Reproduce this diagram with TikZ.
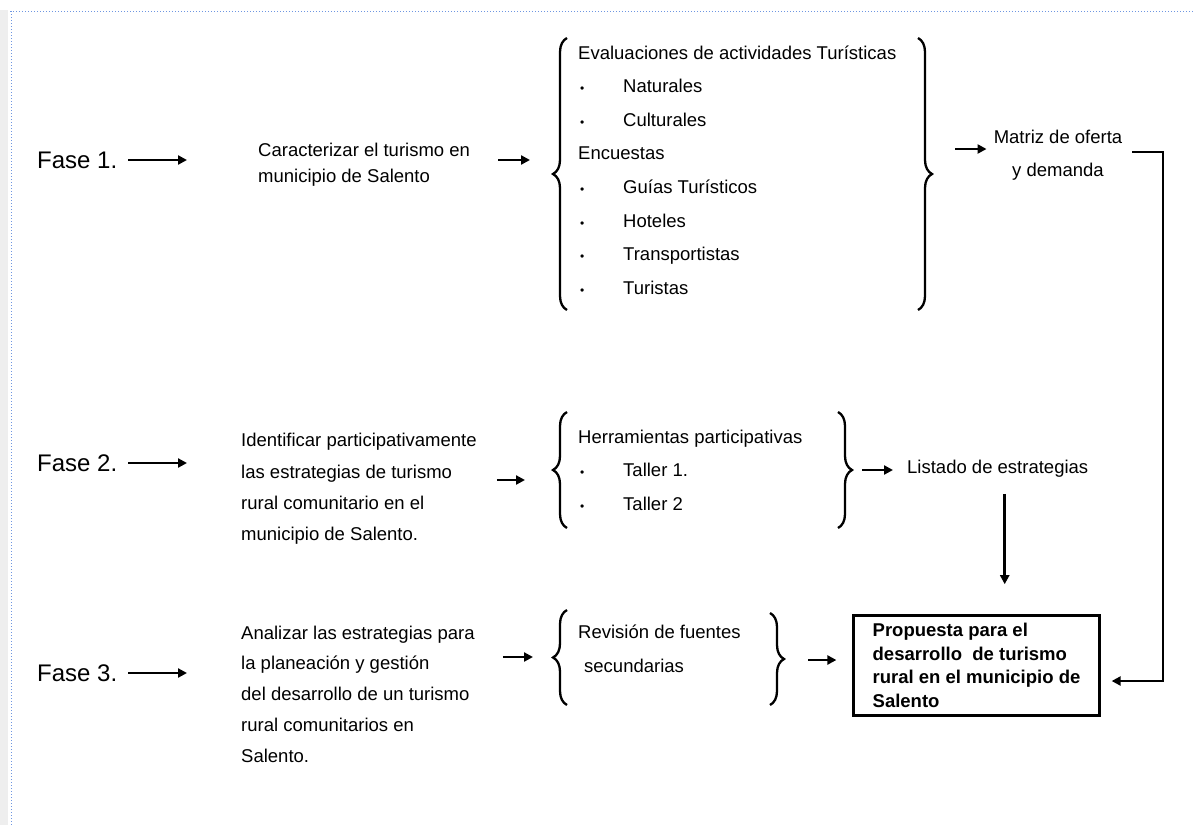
\documentclass[tikz,border=0pt]{standalone}
\usepackage{fontspec}
\setmainfont{Liberation Sans}
\usetikzlibrary{positioning,arrows.meta,decorations.pathreplacing}

\definecolor{borde}{RGB}{110,150,225}
\definecolor{franja}{RGB}{238,238,238}
\newcommand{\vineta}[1]{\hspace*{2pt}\makebox[43pt][l]{\fontsize{12}{12}\selectfont •}#1}

\begin{document}
\begin{tikzpicture}[x=1pt,y=-1pt,
    fase/.style={font=\fontsize{24}{28}\selectfont,inner sep=0pt,anchor=west},
    paso/.style={inner sep=0pt,anchor=west,align=left},
    caja/.style={draw,line width=2.6pt,align=left,inner xsep=19pt,
      minimum width=238pt,minimum height=100pt,
      font=\bfseries\fontsize{18.5}{23.5}\selectfont},
    arr/.style={line width=2.6pt,-{Triangle[length=9pt,width=9pt]}},
    llave/.style={decorate,decoration={brace,amplitude=14pt},line width=2.3pt}]
  \useasboundingbox (0,0) rectangle (1193,825);
  % page edge
  \fill[franja] (0,10) rectangle (8,825);
  \draw[borde,dotted,line width=1pt] (10,11) -- (1193,11);
  \draw[borde,dotted,line width=1pt] (11,11) -- (11,825);

  % phases
  \node[fase] (f1) at (37,160) {Fase 1.};
  \node[fase] (f2) at (37,463) {Fase 2.};
  \node[fase] (f3) at (37,673) {Fase 3.};

  % objectives
  \node[paso,font=\fontsize{18.5}{26}\selectfont] (t1) at (258,165)
    {Caracterizar el turismo en\\municipio de Salento};
  \node[paso,font=\fontsize{18.5}{31.3}\selectfont] (t2) at (241,489)
    {Identificar participativamente\\las estrategias de turismo\\rural comunitario en el\\municipio de Salento.};
  \node[paso,font=\fontsize{18.5}{30.7}\selectfont] (t3) at (241,694)
    {Analizar las estrategias para\\la planeación y gestión\\del desarrollo de un turismo\\rural comunitarios en\\Salento.};

  % tools
  \node[paso,font=\fontsize{18.5}{33.6}\selectfont] (l1) at (578,170)
    {Evaluaciones de actividades Turísticas\\\vineta{Naturales}\\\vineta{Culturales}\\Encuestas\\
     \vineta{Guías Turísticos}\\\vineta{Hoteles}\\\vineta{Transportistas}\\\vineta{Turistas}};
  \node[paso,font=\fontsize{18.5}{33.5}\selectfont] (l2) at (578,470)
    {Herramientas participativas\\\vineta{Taller 1.}\\\vineta{Taller 2}};
  \node[paso,font=\fontsize{18.5}{34}\selectfont] (l3) at (578,649)
    {Revisión de fuentes\\\hspace*{6pt}secundarias};

  % braces
  \draw[llave] (567,310) -- (567,38);
  \draw[llave] (918,38) -- (918,310);
  \draw[llave] (567,528) -- (567,412);
  \draw[llave] (838,412) -- (838,528);
  \draw[llave] (567,705) -- (567,610);
  \draw[llave] (770,613) -- (770,705);
  \coordinate (lb1) at (553,160);
  \coordinate (rb1) at (935,149);
  \coordinate (lb2) at (548,480);
  \coordinate (rb2) at (855,470);
  \coordinate (lb3) at (548,657);
  \coordinate (rb3) at (785,660);

  % results
  \node[paso,anchor=center,align=center,font=\fontsize{18.5}{33}\selectfont] (m) at (1058,155)
    {Matriz de oferta\\y demanda};
  \node[paso] (le) at (907,469) {\fontsize{18.5}{22}\selectfont Listado de estrategias};
  \node[caja] (p) at (976.5,665.5)
    {Propuesta para el\\desarrollo\ \ de turismo\\rural en el municipio de\\Salento};
  \coordinate (esq) at (1163,152);

  % arrows
  \draw[arr,shorten <=11pt,shorten >=71pt] (f1.east) -- (f1.east -| t1.west);
  \draw[arr,shorten <=11pt,shorten >=54pt] (f2.east) -- (f2.east -| t2.west);
  \draw[arr,shorten <=11pt,shorten >=54pt] (f3.east) -- (f3.east -| t3.west);
  \draw[arr,shorten <=28pt,shorten >=23pt] (t1.east |- lb1) -- (lb1);
  \draw[arr,shorten <=20pt,shorten >=23pt] (t2.east |- lb2) -- (lb2);
  \draw[arr,shorten <=28pt,shorten >=15pt] (t3.east |- lb3) -- (lb3);
  \draw[arr,shorten <=20pt,shorten >=7pt] (rb1) -- (rb1 -| m.west);
  \draw[arr,shorten <=7pt,shorten >=14pt] (rb2) -- (rb2 -| le.west);
  \draw[arr,shorten <=23pt,shorten >=16pt] (rb3) -- (rb3 -| p.west);
  \draw[arr,shorten <=16pt,shorten >=30pt] ([xshift=7pt]le.south) -- ([xshift=7pt]le.south |- p.north);
  \draw[arr,shorten <=10pt,shorten >=11pt] (m.east |- esq) -- (esq) |- ([yshift=-15.5pt]p.east);
\end{tikzpicture}
\end{document}
